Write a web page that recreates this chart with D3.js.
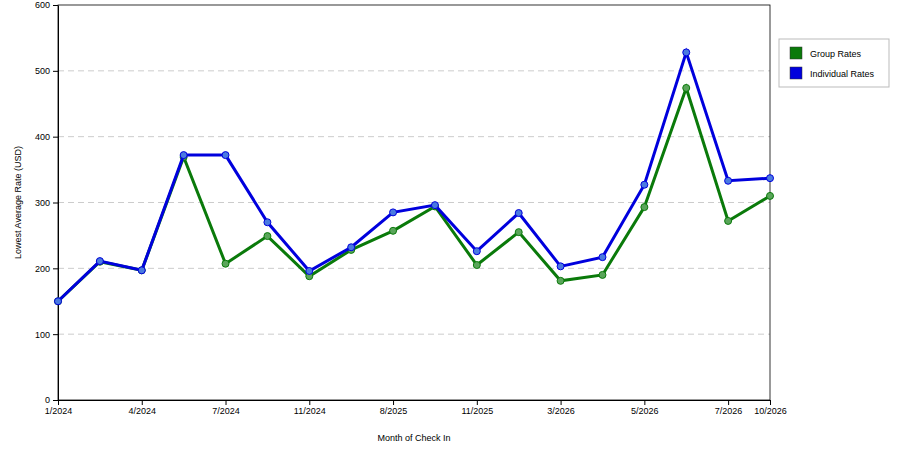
<!DOCTYPE html>
<html><head><meta charset="utf-8">
<script src="https://cdn.jsdelivr.net/npm/d3@7"></script>
<style>body{margin:0;background:#fff}text{font-family:"Liberation Sans",Arial,sans-serif}</style>
</head><body><svg id="c" width="900" height="450"></svg>
<script>
const categories=["1/2024","2/2024","4/2024","5/2024","7/2024","9/2024","11/2024","12/2024","8/2025","9/2025","11/2025","1/2026","3/2026","4/2026","5/2026","6/2026","7/2026","10/2026"];
const shownTicks=["1/2024","4/2024","7/2024","11/2024","8/2025","11/2025","3/2026","5/2026","7/2026","10/2026"];
const groupRates=[150,210,197,369,207,249,188,228,257,294,205,255,181,190,293,474,272,310];
const individualRates=[150,211,197,372,372,270,196,232,285,296,226,284,203,217,327,528,333,337];
const yTicks=[0,100,200,300,400,500,600];

const svg=d3.select("#c");
const L=58,R=770,T=5,B=400;
const x=d3.scalePoint().domain(categories).range([L,R]);
const y=d3.scaleLinear().domain([0,600]).range([B,T]);

svg.append("g").selectAll("line").data(yTicks.slice(1,-1)).join("line")
 .attr("x1",L).attr("x2",R).attr("y1",d=>y(d)).attr("y2",d=>y(d))
 .attr("stroke","#ccc").attr("stroke-dasharray","6,4");
svg.append("rect").attr("x",L).attr("y",T).attr("width",R-L).attr("height",B-T).attr("fill","none").attr("stroke","#000").attr("stroke-width",0.8);

const xa=svg.append("g").attr("transform",`translate(0,${B})`)
 .call(d3.axisBottom(x).tickValues(shownTicks).tickSize(5).tickSizeOuter(0));
const ya=svg.append("g").attr("transform",`translate(${L},0)`)
 .call(d3.axisLeft(y).tickValues(yTicks).tickSize(5).tickSizeOuter(0));
[xa,ya].forEach(a=>{a.selectAll("text").attr("font-size",9).attr("fill","#000");a.select(".domain").attr("stroke","#000");a.selectAll("line").attr("stroke","#000");});

svg.append("text").attr("x",(L+R)/2).attr("y",441).attr("text-anchor","middle").attr("font-size",9).text("Month of Check In");
svg.append("text").attr("transform",`translate(21,${(T+B)/2}) rotate(-90)`).attr("text-anchor","middle").attr("font-size",9).text("Lowest Average Rate (USD)");

function series(vals,col,dot){
 svg.append("path").datum(vals).attr("fill","none").attr("stroke",col).attr("stroke-width",3)
  .attr("d",d3.line().x((d,i)=>x(categories[i])).y(d=>y(d)));
 svg.append("g").selectAll("circle").data(vals).join("circle")
  .attr("cx",(d,i)=>x(categories[i])).attr("cy",d=>y(d)).attr("r",3.5).attr("fill",dot).attr("stroke",col).attr("stroke-width",1);
}
series(groupRates,"#0a7a0a","#5aa55a");
series(individualRates,"#0000dd","#4a7ae0");

const lg=svg.append("g");
lg.append("rect").attr("x",779).attr("y",39).attr("width",110).attr("height",48).attr("fill","#fff").attr("stroke","#bbb");
[["Group Rates","#0a7a0a"],["Individual Rates","#0000dd"]].forEach((d,i)=>{
 lg.append("rect").attr("x",790).attr("y",47+i*20).attr("width",12).attr("height",12).attr("fill",d[1]).attr("stroke","#333").attr("stroke-width",0.5);
 lg.append("text").attr("x",810).attr("y",57+i*20).attr("font-size",9).text(d[0]);
});
</script></body></html>
